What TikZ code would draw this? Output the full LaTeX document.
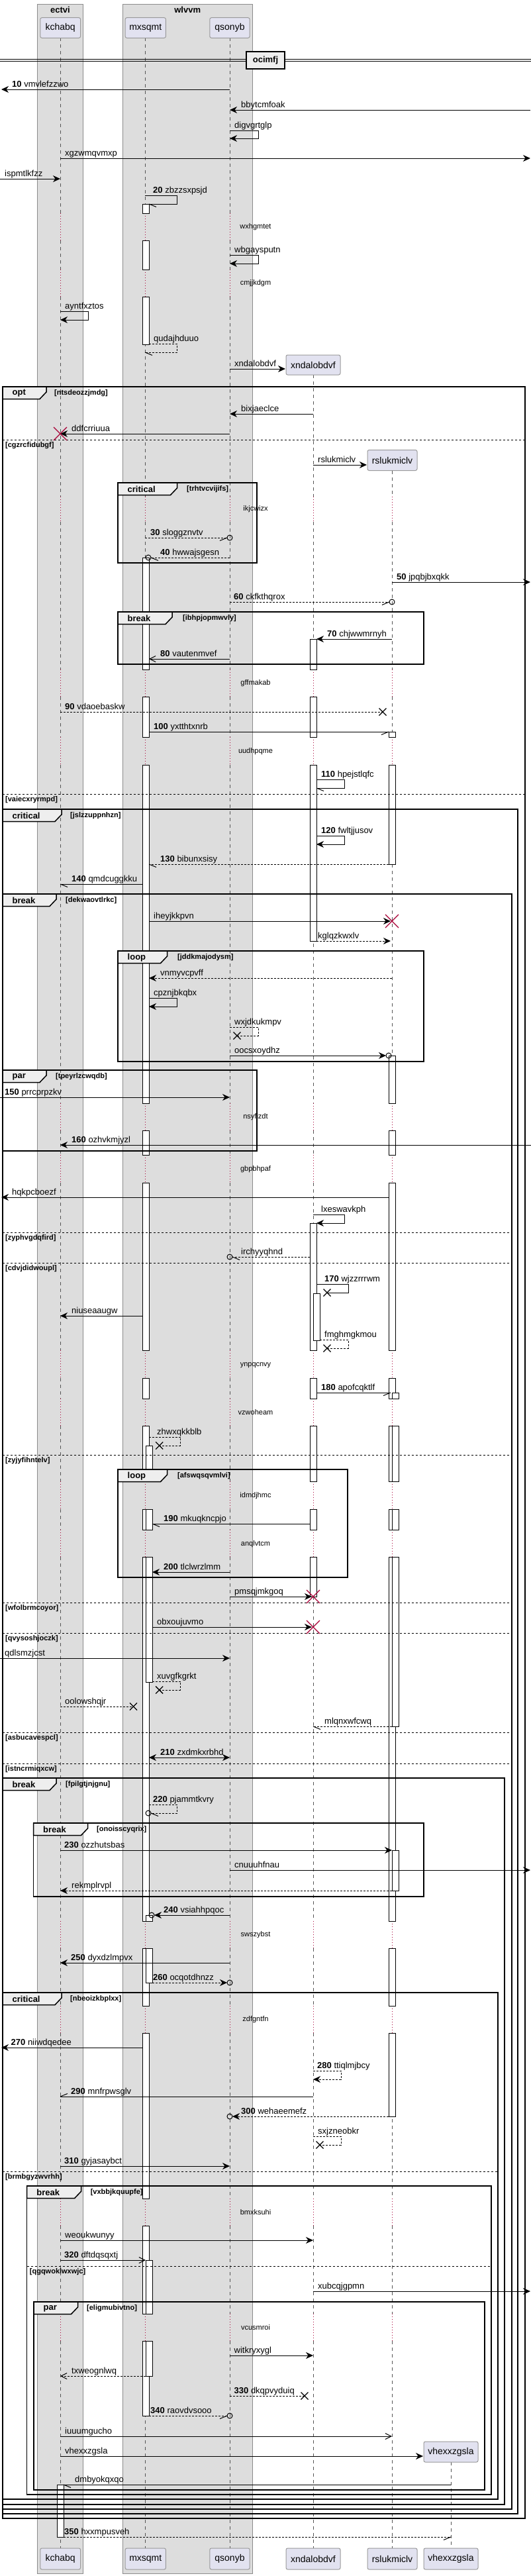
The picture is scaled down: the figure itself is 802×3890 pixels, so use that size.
\documentclass[tikz,border=0pt]{standalone}
\usepackage{fontspec}
\setmainfont{Liberation Sans}
\usetikzlibrary{arrows.meta}
\definecolor{lanefill}{HTML}{DDDDDD}
\definecolor{lanedraw}{HTML}{8C8C8C}
\definecolor{partfill}{HTML}{E2E2F0}
\definecolor{partdraw}{HTML}{9A9A9A}
\definecolor{tabfill}{HTML}{EEEEEE}
\definecolor{dred}{HTML}{A80036}
\definecolor{lifec}{HTML}{555555}
\newcommand\sqfMsg{\fontsize{13}{15}\selectfont}
\newcommand\sqfDel{\fontsize{11}{13}\selectfont}
\newcommand\sqfPart{\fontsize{14}{16}\selectfont}
\newcommand\sqfTab{\fontsize{13}{15}\selectfont\bfseries}
\newcommand\sqfCond{\fontsize{11}{13}\selectfont\bfseries}
\tikzset{
 sol/.style={line width=1pt},
 dsh/.style={line width=1pt, dash pattern=on 3pt off 2pt},
 arrF/.style={-{Stealth[length=11pt,width=10pt,inset=3.5pt]}},
 arrFF/.style={{Stealth[length=11pt,width=10pt,inset=3.5pt]}-{Stealth[length=11pt,width=10pt,inset=3.5pt]}},
 arrO/.style={-{Straight Barb[length=9pt,width=9pt]}},
 lbl/.style={font=\sqfMsg, inner sep=0pt, anchor=base west},
 dlytxt/.style={font=\sqfDel, inner sep=0pt},
 part/.style={draw=partdraw, fill=partfill, rounded corners=2.5pt, line width=1pt, font=\sqfPart, inner sep=0pt},
 lifeln/.style={draw=lifec, line width=0.6pt, dash pattern=on 5pt off 5pt},
 delayln/.style={draw=dred, line width=0.9pt, dash pattern=on 1pt off 3pt},
 barst/.style={draw=black, fill=white, line width=0.8pt},
 frm/.style={line width=1.5pt},
 septxt/.style={font=\sqfCond, inner sep=0pt, anchor=west},
}
\newcommand\sqMsg[7]{%
  \coordinate (#1a) at (#2,#4);
  \coordinate (#1b) at (#3,#4);
  \draw[#5] (#1a) -- (#1b);
  \node[lbl] (#1l) at (#6,#4-4) {#7};}
\newcommand\sqSelf[9]{%
  \coordinate (#1a) at (#2,#4);
  \coordinate (#1b) at (#3,#4);
  \coordinate (#1c) at (#3,#5);
  \coordinate (#1d) at (#6,#5);
  \draw[#7] (#1a) -- (#1b) -- (#1c) -- (#1d);
  \node[lbl] (#1l) at (#8,#4-4) {#9};}
\newcommand\sqBarb[4]{\draw[sol] ({#1-(#3)*11},{#2+(#4)*4.5}) -- (#1,#2);}
\newcommand\sqCirc[2]{\draw[sol] (#1,#2) circle[radius=4pt];}
\newcommand\sqLost[2]{\draw[line width=1.3pt] (#1-5.5,#2-5.5) -- (#1+5.5,#2+5.5) (#1-5.5,#2+5.5) -- (#1+5.5,#2-5.5);}
\newcommand\sqKill[2]{\draw[line width=1.3pt, dred] (#1-10,#2-10) -- (#1+10,#2+10) (#1-10,#2+10) -- (#1+10,#2-10);}
\newcommand\sqFrame[9]{%
  \draw[frm] (#2,#3) rectangle (#4,#5);
  \draw[frm, fill=tabfill] (#2,#3) -- (#6,#3) -- (#6,#3+8) -- (#6-10,#3+18.5) -- (#2,#3+18.5) -- cycle;
  \node[font=\sqfTab, inner sep=0pt, anchor=west] (#1t) at (#2+14.5,#3+10) {#7};
  \node[septxt] (#1c) at (#8,#3+10) {#9};}
\newcommand\sqSep[5]{%
  \coordinate (#1a) at (#2,#4);
  \coordinate (#1b) at (#3,#4);
  \draw[line width=1pt, dash pattern=on 3pt off 3pt] (#1a) -- (#1b);
  \node[septxt] (#1t) at (#2+4,#4+9) {#5};}
\def\segsA{57/322,363/407,448/750}
\def\segsC{788/1011,1052/1113,1155/1666,1707/1744,1786/2039,2081/2112,2153/2237,2279/2310,2351/2901,2942/3029,3070/3320,3361/3494,3535/3848}
\def\dlyA{322/363,407/448}
\def\dlyC{750/788,1011/1052,1113/1155,1666/1707,1744/1786,2039/2081,2112/2153,2237/2279,2310/2351,2901/2942,3029/3070,3320/3361,3494/3535}
\begin{document}
\begin{tikzpicture}[x=1pt,y=-1pt]
\useasboundingbox (0,0) rectangle (802,3890);
\fill[white] (0,0) rectangle (802,3890);
% lanes
\draw[fill=lanefill, draw=lanedraw, line width=0.8pt] (56.7,6) rectangle (125.2,3886);
\draw[fill=lanefill, draw=lanedraw, line width=0.8pt] (185,6) rectangle (381.4,3886);
\node[font=\sqfTab, inner sep=0pt] (laneA) at (91,15) {ectvi};
\node[font=\sqfTab, inner sep=0pt] (laneB) at (283.2,15) {wlvvm};
% lifelines
\foreach \x in {91.2,219,347}{
  \foreach \a/\b in \segsA {\draw[lifeln] (\x,\a) -- (\x,\b);}
  \foreach \a/\b in \segsC {\draw[lifeln] (\x,\a) -- (\x,\b);}
  \foreach \a/\b in \dlyA {\draw[delayln] (\x,\a) -- (\x,\b);}
  \foreach \a/\b in \dlyC {\draw[delayln] (\x,\a) -- (\x,\b);}
}
\foreach \x/\s in {473/566,592.2/711}{
  \draw[lifeln] (\x,\s) -- (\x,750);
  \foreach \a/\b in \segsC {\draw[lifeln] (\x,\a) -- (\x,\b);}
  \foreach \a/\b in \dlyC {\draw[delayln] (\x,\a) -- (\x,\b);}
}
\draw[lifeln] (681,3718) -- (681,3848);
% delay texts
\foreach \y/\t in {343/wxhgmtet,428/cmjjkdgm,769/ikjcwizx,1032/gffmakab,1135/uudhpqme,1687/nsyfizdt,1766/gbpbhpaf,2062/ynpqcnvy,2133/vzwoheam,2259/idmdjhmc,2332/anqlvtcm,2922/swszybst,3050/zdfgntfn,3341/bmxksuhi,3515/vcusmroi}{
  \node[dlytxt] (dly\y) at (386,\y) {\t};
}
% activation bars
\foreach \c/\a/\b in {
220/308/322, 220/363/407, 220/448/520,
220/842/1011, 220/1052/1113, 220/1155/1666, 220/1707/1744, 220/1786/2039, 220/2081/2112, 220/2153/2237, 220/2279/2310, 220/2351/2901, 220/2942/3029, 220/3070/3320, 220/3361/3494, 220/3535/3648,
225/2183/2237, 225/2279/2310, 225/2351/2540,
225/2892/2901, 225/2942/2994,
225/3413/3494, 225/3535/3588,
473/965/1011, 473/1052/1113, 473/1155/1421,
473/1847/2039, 473/2081/2112, 473/2153/2237, 473/2279/2310, 473/2351/2411,
478/1953/2024,
592/1105/1113, 592/1155/1305,
592/1594/1666, 592/1707/1744, 592/1786/2039, 592/2081/2112, 592/2153/2237, 592/2279/2310, 592/2351/2901, 592/2942/3029, 592/3070/3196,
597/2103/2112, 597/2153/2237, 597/2279/2310, 597/2351/2607,
597/2794/2855,
91/3752/3831}
{\draw[barst] (\c-5,\a) rectangle (\c+5,\b);}
% divider
\draw[line width=1pt] (0,89.3) -- (802,89.3);
\draw[line width=1pt] (0,92.7) -- (802,92.7);
\node[draw, line width=1.5pt, fill=tabfill, minimum width=58pt, minimum height=26pt, inner sep=0pt, font=\sqfTab] (divA) at (401,91) {ocimfj};
% frames
\sqFrame{fa}{4}{584}{793}{3803}{70}{opt}{82}{[ntsdeozzjmdg]}
\sqFrame{fb}{178}{729}{388}{850}{267.5}{critical}{282}{[trhtvcvijifs]}
\sqFrame{fc}{178}{924}{640}{1003}{260}{break}{276}{[ibhpjopmwvly]}
\sqFrame{fd}{4}{1222}{782}{3796}{93}{critical}{106}{[jslzzuppnhzn]}
\sqFrame{fe}{4}{1350}{773}{3789}{85}{break}{99}{[dekwaovtlrkc]}
\sqFrame{ff}{178}{1436}{640}{1603}{252.5}{loop}{268}{[jddkmajodysm]}
\sqFrame{fg}{4}{1616}{388}{1738}{70}{par}{84}{[tpeyrlzcwqdb]}
\sqFrame{fh}{178}{2219}{525}{2382}{252.5}{loop}{268}{[afswqsqvmlvi]}
\sqFrame{fi}{4}{2685}{762}{3782}{85}{break}{99}{[fpilgtjnjgnu]}
\sqFrame{fj}{50.5}{2753}{640}{2864}{132.5}{break}{146}{[onoisscyqrix]}
\sqFrame{fk}{4}{3009}{752}{3774}{93}{critical}{106}{[nbeoizkbplxx]}
\sqFrame{fl}{40.7}{3301}{742}{3767}{122.7}{break}{136.6}{[vxbbjkquupfe]}
\sqFrame{fm}{51}{3476}{732}{3760}{117.5}{par}{131}{[eligmubivtno]}
\sqSep{sa}{4}{793}{664}{[cgzrcfidubgf]}
\sqSep{sb}{4}{793}{1199}{[vaiecxryrmpd]}
\sqSep{sc}{4}{773}{1861}{[zyphvgdqfird]}
\sqSep{sd}{4}{773}{1907}{[cdvjdidwoupl]}
\sqSep{se}{4}{773}{2197}{[zyjyfihntelv]}
\sqSep{sf}{4}{773}{2420}{[wfolbrmcoyor]}
\sqSep{sg}{4}{773}{2466}{[qvysoshjoczk]}
\sqSep{sh}{4}{773}{2616}{[asbucavespcl]}
\sqSep{si}{4}{773}{2663}{[istncrmiqxcw]}
\sqSep{sj}{4}{752}{3279}{[brmbgyzwvrhh]}
\sqSep{sk}{40.7}{742}{3422}{[qgqwoklwxwjc]}
% participants
\node[part, minimum width=60.8pt, minimum height=30.6pt] (pK) at (91.2,42) {kchabq};
\node[part, minimum width=61.3pt, minimum height=30.6pt] (pM) at (219.8,42) {mxsqmt};
\node[part, minimum width=60.3pt, minimum height=30.6pt] (pQ) at (347,42) {qsonyb};
\node[part, minimum width=82pt, minimum height=30pt] (pX) at (473,551) {xndalobdvf};
\node[part, minimum width=75pt, minimum height=31pt] (pR) at (592.5,695) {rslukmiclv};
\node[part, minimum width=82pt, minimum height=31pt] (pV) at (681,702.5+3000) {vhexxzgsla};
\node[part, minimum width=60.8pt, minimum height=32pt] (bK) at (91.2,3864) {kchabq};
\node[part, minimum width=61.3pt, minimum height=32pt] (bM) at (219.8,3864) {mxsqmt};
\node[part, minimum width=60.3pt, minimum height=32pt] (bQ) at (347,3864) {qsonyb};
\node[part, minimum width=82pt, minimum height=32pt] (bX) at (473,3864) {xndalobdvf};
\node[part, minimum width=75pt, minimum height=32pt] (bR) at (592.5,3864) {rslukmiclv};
\node[part, minimum width=82pt, minimum height=32pt] (bV) at (681,3864) {vhexxzgsla};
% messages
\sqMsg{ma}{347}{2}{135}{sol,arrF}{18}{\textbf{10} vmvlefzzwo}
\sqMsg{mb}{801}{347}{166}{sol,arrF}{364}{bbytcmfoak}
\sqSelf{mc}{347}{390}{197}{209}{347}{sol,arrF}{354}{digvgrtglp}
\sqMsg{md}{91}{801}{239}{sol,arrF}{98}{xgzwmqvmxp}
\sqMsg{me}{0}{91}{270}{sol,arrF}{7}{ispmtlkfzz}
\sqSelf{mf}{219}{267.5}{295}{308}{225}{sol}{231}{\textbf{20} zbzzsxpsjd}
\sqBarb{225}{308}{-1}{1}
\sqSelf{mg}{347}{390}{385}{398}{347}{sol,arrF}{354}{wbgaysputn}
\sqSelf{mh}{91}{133.5}{470}{483}{91}{sol,arrF}{98}{ayntfxztos}
\sqSelf{mi}{225}{267.5}{519}{532}{219}{dsh}{232}{qudajhduuo}
\sqBarb{219}{532}{-1}{1}
\sqMsg{mj}{347}{431}{557}{sol,arrF}{354}{xndalobdvf}
\sqMsg{mk}{473}{347}{625}{sol,arrF}{364}{bixjaeclce}
\sqMsg{ml}{347}{91}{655}{sol,arrF}{108}{ddfcrriuua}
\sqKill{91}{655}
\sqMsg{mm}{473}{554}{702}{sol,arrF}{480}{rslukmiclv}
\sqMsg{mn}{219}{343}{812}{dsh}{227}{\textbf{30} sloggznvtv}
\sqBarb{343}{812}{1}{1}\sqCirc{347}{812}
\sqMsg{mo}{347}{228}{842}{dsh}{242}{\textbf{40} hwwajsgesn}
\sqBarb{228}{842}{-1}{1}\sqCirc{224}{842}
\sqMsg{mp}{592}{801}{879}{sol,arrF}{599}{\textbf{50} jpqbjbxqkk}
\sqMsg{mq}{347}{588}{909}{dsh}{353}{\textbf{60} ckfkthqrox}
\sqBarb{588}{909}{1}{1}\sqCirc{592}{909}
\sqMsg{mr}{592}{478}{965}{sol,arrF}{494}{\textbf{70} chjwwmrnyh}
\sqMsg{ms}{347}{225}{995}{sol,arrO}{242}{\textbf{80} vautenmvef}
\sqMsg{mt}{91}{578}{1075}{dsh}{98}{\textbf{90} vdaoebaskw}
\sqLost{578}{1075}
\sqMsg{mu}{225}{587}{1105}{sol}{232}{\textbf{100} yxtthtxnrb}
\sqBarb{587}{1105}{1}{1}
\sqSelf{mv}{478}{520.5}{1177}{1190}{478}{sol}{485}{\textbf{110} hpejstlqfc}
\sqBarb{478}{1190}{-1}{1}
\sqSelf{mw}{478}{520.5}{1262}{1275}{478}{sol,arrF}{485}{\textbf{120} fwltjjusov}
\sqMsg{mx}{587}{225}{1305}{dsh}{242}{\textbf{130} bibunxsisy}
\sqBarb{225}{1305}{-1}{1}
\sqMsg{my}{215}{91}{1335}{sol}{108}{\textbf{140} qmdcuggkku}
\sqBarb{91}{1335}{-1}{1}
\sqMsg{mz}{225}{590}{1391}{sol,arrF}{232}{iheyjkkpvn}
\sqKill{592}{1391}
\sqMsg{na}{478}{590}{1421}{dsh,arrF}{480}{kglqzkwxlv}
\sqMsg{nb}{592}{225}{1477}{dsh,arrF}{242}{vnmyvcpvff}
\sqSelf{nc}{225}{267.5}{1507}{1520}{225}{sol,arrF}{232}{cpznjbkqbx}
\sqSelf{nd}{347}{390}{1551}{1564}{358}{dsh}{354}{wxjdkukmpv}
\sqLost{358}{1564}
\sqMsg{ne}{347}{583}{1594}{sol,arrF}{354}{oocsxoydhz}
\sqCirc{587}{1594}
\sqMsg{nf}{0}{347}{1657}{sol,arrF}{7}{\textbf{150} prrcprpzkv}
\sqMsg{ng}{802}{91}{1729}{sol,arrF}{108}{\textbf{160} ozhvkmjyzl}
\sqMsg{nh}{587}{2}{1808}{sol,arrF}{18}{hqkpcboezf}
\sqSelf{ni}{473}{520.5}{1834}{1847}{478}{sol,arrF}{485}{lxeswavkph}
\sqMsg{nj}{468}{351}{1898}{dsh}{364}{irchyyqhnd}
\sqBarb{351}{1898}{-1}{1}\sqCirc{347}{1898}
\sqSelf{nk}{478}{526}{1939}{1952}{494}{sol}{490}{\textbf{170} wjzzrrrwm}
\sqLost{494}{1952}
\sqMsg{nl}{215}{91}{1987}{sol,arrF}{108}{niuseaaugw}
\sqSelf{nm}{483}{526}{2023}{2036}{494}{dsh}{490}{fmghmgkmou}
\sqLost{494}{2036}
\sqMsg{nn}{478}{590}{2103}{sol}{485}{\textbf{180} apofcqktlf}
\sqBarb{590}{2103}{1}{1}
\sqSelf{no}{225}{272.6}{2170}{2183}{240.7}{dsh}{237}{zhwxqkkblb}
\sqLost{240.7}{2183}
\sqMsg{np}{468}{230}{2301}{sol}{247}{\textbf{190} mkuqkncpjo}
\sqBarb{230}{2301}{-1}{1}
\sqMsg{nq}{347}{230}{2374}{sol,arrF}{247}{\textbf{200} tlclwrzlmm}
\sqMsg{nr}{347}{471}{2411}{sol,arrF}{354}{pmsqjmkgoq}
\sqKill{473}{2411}
\sqMsg{ns}{230}{471}{2457}{sol,arrF}{237}{obxoujuvmo}
\sqKill{473}{2457}
\sqMsg{nt}{0}{347}{2504}{sol,arrF}{7}{qdlsmzjcst}
\sqSelf{nu}{230}{272.6}{2539}{2552}{240.7}{dsh}{237}{xuvgfkgrkt}
\sqLost{240.7}{2552}
\sqMsg{nv}{91}{201.5}{2577}{dsh}{98}{oolowshqjr}
\sqLost{201.5}{2577}
\sqMsg{nw}{592}{473}{2607}{dsh}{490}{mlqnxwfcwq}
\sqBarb{473}{2607}{-1}{1}
\sqMsg{nx}{225}{347}{2654}{sol,arrFF}{242}{\textbf{210} zxdmkxrbhd}
\sqSelf{ny}{225}{267.5}{2725}{2738}{228}{dsh}{231}{\textbf{220} pjammtkvry}
\sqBarb{228}{2738}{-1}{1}\sqCirc{224}{2738}
\sqMsg{nz}{91}{592}{2794}{sol,arrF}{97}{\textbf{230} ozzhutsbas}
\sqMsg{oa}{347}{801}{2824}{sol,arrF}{354}{cnuuuhfnau}
\sqMsg{ob}{592}{91}{2855}{dsh,arrF}{108}{rekmplrvpl}
\sqMsg{oc}{347}{233}{2892}{sol,arrF}{247}{\textbf{240} vsiahhpqoc}
\sqCirc{229}{2892}
\sqMsg{od}{347}{91}{2964}{sol,arrF}{107}{\textbf{250} dyxdzlmpvx}
\sqMsg{oe}{230}{343}{2994}{dsh,arrF}{231}{\textbf{260} ocqotdhnzz}
\sqCirc{347}{2994}
\sqMsg{of}{215}{2}{3092}{sol,arrF}{16.5}{\textbf{270} niiwdqedee}
\sqSelf{og}{473}{515}{3127}{3140}{473}{dsh,arrF}{479}{\textbf{280} ttiqlmjbcy}
\sqMsg{oh}{473}{91}{3166}{sol}{107}{\textbf{290} mnfrpwsglv}
\sqBarb{91}{3166}{-1}{-1}
\sqMsg{oi}{587}{351}{3196}{dsh,arrF}{364}{\textbf{300} wehaeemefz}
\sqCirc{347}{3196}
\sqSelf{oj}{473}{515}{3226}{3239}{483}{dsh}{480}{sxjzneobkr}
\sqLost{483}{3239}
\sqMsg{ok}{91}{347}{3271}{sol,arrF}{97}{\textbf{310} gyjasaybct}
\sqMsg{ol}{91}{473}{3383}{sol,arrF}{98}{weoukwunyy}
\sqMsg{om}{91}{220}{3413}{sol,arrO}{97}{\textbf{320} dftdqsqxtj}
\sqMsg{on}{473}{801}{3460}{sol,arrF}{480}{xubcqjgpmn}
\sqMsg{oo}{347}{473}{3557}{sol,arrF}{353.5}{witkryxygl}
\sqMsg{op}{220}{91}{3588}{dsh,arrO}{108}{txweognlwq}
\sqMsg{oq}{347}{460}{3618}{dsh}{353.5}{\textbf{330} dkqpvyduiq}
\sqLost{460}{3618}
\sqMsg{or}{225}{343}{3648}{dsh}{227}{\textbf{340} raovdvsooo}
\sqBarb{343}{3648}{1}{1}\sqCirc{347}{3648}
\sqMsg{os}{91}{592}{3679}{sol,arrO}{98}{iuuumgucho}
\sqMsg{ot}{91}{639}{3709}{sol,arrF}{98}{vhexxzgsla}
\sqMsg{ou}{681}{96}{3752}{sol}{113}{dmbyokqxqo}
\sqBarb{96}{3752}{-1}{1}
\sqMsg{ov}{96}{681}{3831}{dsh}{97}{\textbf{350} hxxmpusveh}
\sqBarb{681}{3831}{1}{1}
\end{tikzpicture}
\end{document}
